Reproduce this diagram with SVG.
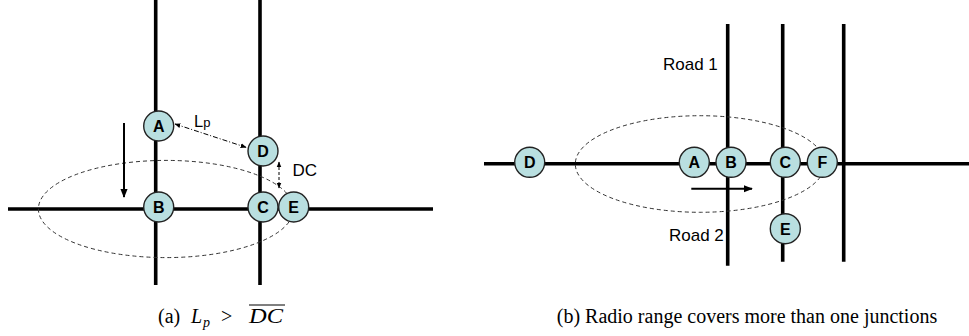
<svg xmlns="http://www.w3.org/2000/svg" width="969" height="336" viewBox="0 0 969 336">
<style>
.road{stroke:#000;stroke-width:3.6;fill:none}
.node circle{fill:#b9dfe0;stroke:#222;stroke-width:1.4}
.node text{font-family:"Liberation Sans",Arial,sans-serif;font-weight:bold;font-size:16px;text-anchor:middle;fill:#000}
.range{fill:none;stroke:#333;stroke-width:1;stroke-dasharray:4 3}
.lbl{font-family:"Liberation Sans",Arial,sans-serif;font-size:17px;fill:#000}
.cap{font-family:"Liberation Serif","Times New Roman",serif;font-size:20px;fill:#000}
.it{font-style:italic}
</style>
<defs>
<marker id="sm" viewBox="0 0 10 10" refX="9" refY="5" markerWidth="6" markerHeight="6" markerUnits="userSpaceOnUse" orient="auto-start-reverse">
<path d="M0,1 L10,5 L0,9 Z" fill="#000"/>
</marker>
<marker id="big" viewBox="0 0 10 10" refX="9" refY="5" markerWidth="9" markerHeight="9" markerUnits="userSpaceOnUse" orient="auto">
<path d="M0,1 L10,5 L0,9 Z" fill="#000"/>
</marker>
</defs>

<!-- Panel (a) -->
<g id="roads-a">
<line class="road" x1="155.7" y1="0" x2="155.7" y2="285"/>
<line class="road" x1="260" y1="0" x2="260" y2="285"/>
<line class="road" x1="8" y1="209" x2="433" y2="209"/>
</g>
<ellipse id="range-a" class="range" cx="166" cy="209" rx="127.6" ry="48.6"/>

<g id="connectors-a">
<line x1="124" y1="123" x2="124" y2="197" stroke="#000" stroke-width="2" marker-end="url(#big)"/>
<line x1="175" y1="124" x2="246" y2="147.3" stroke="#000" stroke-width="1" stroke-dasharray="5 2 1 2" marker-start="url(#sm)" marker-end="url(#sm)"/>
<line x1="279" y1="162" x2="279" y2="188" stroke="#000" stroke-width="1" stroke-dasharray="3 2" marker-start="url(#sm)" marker-end="url(#sm)"/>
</g>

<g id="a-A" class="node"><circle cx="158.7" cy="126" r="15"/><text x="158.7" y="131.8">A</text></g>
<g id="a-B" class="node"><circle cx="158.7" cy="207" r="15"/><text x="158.7" y="212.8">B</text></g>
<g id="a-D" class="node"><circle cx="263" cy="151" r="15"/><text x="263" y="156.8">D</text></g>
<g id="a-C" class="node"><circle cx="263" cy="207" r="15"/><text x="263" y="212.8">C</text></g>
<g id="a-E" class="node"><circle cx="293.7" cy="207" r="15"/><text x="293.7" y="212.8">E</text></g>

<text class="lbl" x="194" y="127" style="font-size:16.5px">L<tspan style="font-size:13px">p</tspan></text>
<text class="lbl" x="292.5" y="176">DC</text>

<text class="cap" x="158" y="323">(a)</text>
<text class="cap it" x="191" y="323">L</text>
<text class="cap it" x="203" y="327" style="font-size:14px">p</text>
<text class="cap" x="221" y="323">&gt;</text>
<text class="cap it" x="249" y="323" style="font-size:21px" textLength="34" lengthAdjust="spacingAndGlyphs">DC</text>
<line x1="249" y1="305" x2="285" y2="305" stroke="#000" stroke-width="1"/>

<!-- Panel (b) -->
<g id="roads-b">
<line class="road" x1="727.7" y1="24" x2="727.7" y2="265.7"/>
<line class="road" x1="782.7" y1="24" x2="782.7" y2="261.7"/>
<line class="road" x1="843.7" y1="24" x2="843.7" y2="261.7"/>
<line class="road" x1="484" y1="163.7" x2="969" y2="163.7"/>
</g>
<ellipse id="range-b" class="range" cx="700.1" cy="164" rx="124.8" ry="48.3"/>

<g id="connectors-b">
<line x1="691.3" y1="188.7" x2="752" y2="188.7" stroke="#000" stroke-width="2" marker-end="url(#big)"/>
</g>

<g id="b-D" class="node"><circle cx="529.7" cy="162.3" r="15"/><text x="529.7" y="168.1">D</text></g>
<g id="b-A" class="node"><circle cx="694.3" cy="162.3" r="15"/><text x="694.3" y="168.1">A</text></g>
<g id="b-B" class="node"><circle cx="731" cy="162.3" r="15"/><text x="731" y="168.1">B</text></g>
<g id="b-C" class="node"><circle cx="785.3" cy="162.3" r="15"/><text x="785.3" y="168.1">C</text></g>
<g id="b-F" class="node"><circle cx="822.3" cy="162.3" r="15"/><text x="822.3" y="168.1">F</text></g>
<g id="b-E" class="node"><circle cx="785.3" cy="228.7" r="15"/><text x="785.3" y="234.5">E</text></g>

<text class="lbl" x="663" y="70">Road 1</text>
<text class="lbl" x="669" y="240.7">Road 2</text>

<text class="cap" x="747" y="323" text-anchor="middle">(b) Radio range covers more than one junctions</text>
</svg>
